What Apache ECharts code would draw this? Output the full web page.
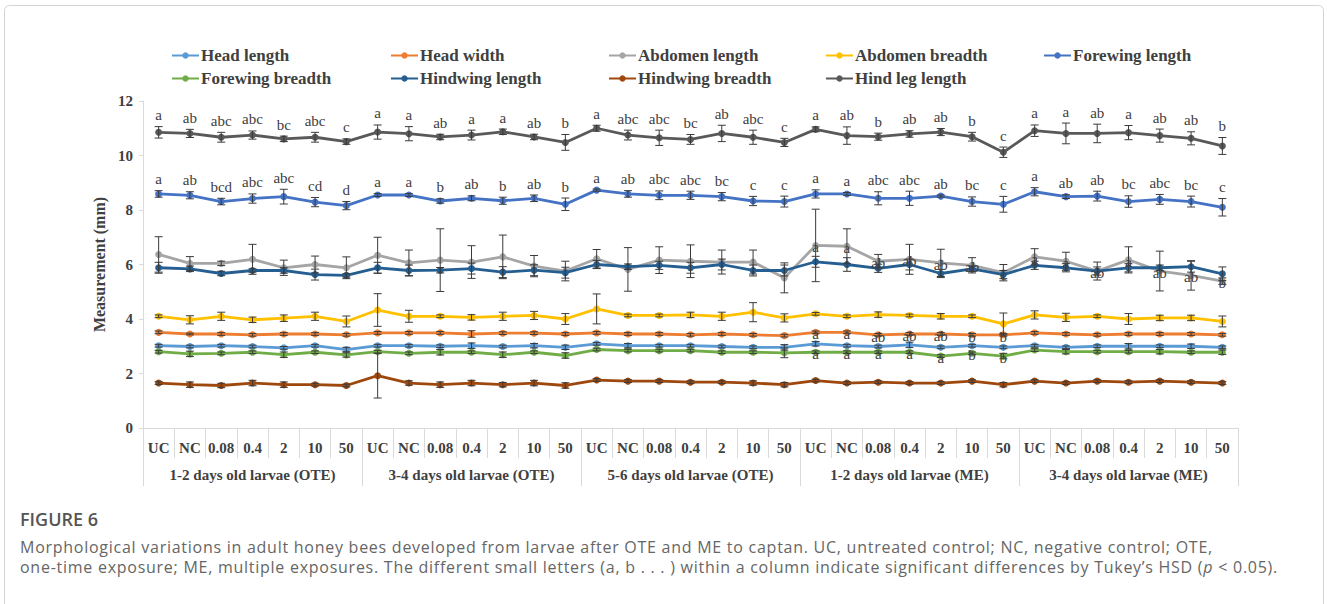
<!DOCTYPE html>
<html>
<head>
<meta charset="utf-8">
<script src="https://cdn.jsdelivr.net/npm/echarts@6/dist/echarts.min.js"></script>
<style>
html,body{margin:0;padding:0;background:#fff;}
#wrap{position:relative;width:1328px;height:604px;overflow:hidden;}
#chart{position:absolute;left:0;top:0;width:1328px;height:604px;}
.cap{position:absolute;white-space:nowrap;font-family:"Open Sans",sans-serif;}
#figTitle{left:20px;top:507px;font-size:18px;font-weight:600;color:#555;}
.capLine{left:20px;font-size:16px;color:#666;line-height:20px;}
#cap1{top:537px;}
#cap2{top:557px;}
</style>
</head>
<body>
<div id="wrap">
<div id="chart"></div>
<div id="figTitle" class="cap">FIGURE 6</div>
<div id="cap1" class="cap capLine">Morphological variations in adult honey bees developed from larvae after OTE and ME to captan. UC, untreated control; NC, negative control; OTE,</div>
<div id="cap2" class="cap capLine">one-time exposure; ME, multiple exposures. The different small letters (a, b . . . ) within a column indicate significant differences by Tukey’s HSD (<i>p</i> &lt; 0.05).</div>
</div>
<script>
// ---------- data ----------
var doses = ['UC','NC','0.08','0.4','2','10','50'];
var groups = ['1-2 days old larvae (OTE)','3-4 days old larvae (OTE)','5-6 days old larvae (OTE)','1-2 days old larvae (ME)','3-4 days old larvae (ME)'];
var categories = [];
groups.forEach(function(){ doses.forEach(function(d){ categories.push(d); }); });
var yTicks = [0,2,4,6,8,10,12];

var headLength = [3.02,2.99,3.02,2.99,2.94,3.02,2.88, 3.02,3.02,3.00,3.02,2.99,3.02,2.96, 3.09,3.02,3.02,3.02,2.99,2.96,2.96, 3.09,3.02,2.99,3.05,2.96,3.02,2.96, 3.02,2.96,3.00,3.00,3.00,3.00,2.96];
var headLengthErr = [0.05,0.05,0.05,0.05,0.05,0.05,0.08, 0.05,0.05,0.05,0.1,0.05,0.08,0.08, 0.05,0.08,0.05,0.05,0.05,0.05,0.1, 0.08,0.05,0.05,0.1,0.05,0.05,0.05, 0.05,0.05,0.05,0.1,0.05,0.08,0.05];
var headWidth = [3.51,3.45,3.45,3.42,3.45,3.45,3.42, 3.49,3.49,3.49,3.45,3.48,3.48,3.45, 3.49,3.45,3.45,3.42,3.45,3.42,3.39, 3.51,3.51,3.42,3.45,3.45,3.42,3.42, 3.49,3.45,3.42,3.45,3.45,3.45,3.42];
var headWidthErr = [0.05,0.03,0.05,0.05,0.05,0.05,0.05, 0.05,0.05,0.05,0.12,0.05,0.05,0.05, 0.05,0.05,0.05,0.05,0.05,0.05,0.05, 0.05,0.05,0.05,0.05,0.05,0.05,0.05, 0.05,0.05,0.05,0.05,0.05,0.05,0.05];
var abdomenLength = [6.37,6.04,6.04,6.19,5.88,6.00,5.88, 6.34,6.06,6.16,6.09,6.28,5.94,5.76, 6.21,5.82,6.16,6.12,6.09,6.09,5.51, 6.70,6.67,6.12,6.19,6.06,5.97,5.70, 6.28,6.12,5.76,6.17,5.76,5.60,5.39];
var abdomenLengthErr = [0.65,0.25,0.08,0.55,0.28,0.31,0.4, 0.66,0.47,1.15,0.6,0.8,0.39,0.36, 0.34,0.8,0.49,0.6,0.44,0.44,0.55, 1.33,0.64,0.25,0.55,0.5,0.28,0.3, 0.3,0.33,0.33,0.48,0.73,0.54,0.12];
var abdomenBreadth = [4.10,3.97,4.10,3.97,4.03,4.10,3.91, 4.33,4.10,4.10,4.06,4.10,4.13,4.00, 4.37,4.13,4.13,4.15,4.10,4.25,4.04, 4.19,4.10,4.16,4.13,4.10,4.10,3.82, 4.15,4.06,4.10,4.00,4.04,4.04,3.91];
var abdomenBreadthErr = [0.05,0.15,0.15,0.1,0.12,0.15,0.2, 0.6,0.22,0.05,0.1,0.15,0.15,0.2, 0.55,0.05,0.05,0.1,0.15,0.35,0.15, 0.05,0.05,0.1,0.05,0.1,0.05,0.4, 0.15,0.15,0.05,0.2,0.1,0.1,0.2];
var forewingLength = [8.59,8.54,8.31,8.42,8.49,8.29,8.16, 8.55,8.55,8.33,8.43,8.34,8.43,8.21, 8.73,8.59,8.54,8.54,8.49,8.33,8.31, 8.59,8.59,8.43,8.43,8.51,8.31,8.21, 8.67,8.49,8.51,8.31,8.39,8.31,8.10];
var forewingLengthErr = [0.12,0.13,0.12,0.17,0.27,0.17,0.15, 0.05,0.05,0.08,0.09,0.13,0.12,0.23, 0.04,0.12,0.16,0.15,0.15,0.17,0.2, 0.15,0.05,0.24,0.26,0.04,0.17,0.29, 0.15,0.07,0.18,0.21,0.18,0.2,0.32];
var forewingBreadth = [2.80,2.72,2.74,2.78,2.69,2.78,2.68, 2.80,2.74,2.78,2.78,2.69,2.78,2.66, 2.88,2.84,2.84,2.84,2.78,2.78,2.76, 2.78,2.78,2.78,2.78,2.64,2.74,2.64, 2.86,2.80,2.80,2.80,2.80,2.78,2.78];
var forewingBreadthErr = [0.05,0.1,0.05,0.05,0.1,0.05,0.08, 0.05,0.05,0.1,0.05,0.1,0.05,0.1, 0.05,0.05,0.05,0.05,0.05,0.05,0.18, 0.05,0.05,0.05,0.05,0.05,0.05,0.1, 0.05,0.08,0.05,0.05,0.08,0.05,0.08];
var hindwingLength = [5.88,5.84,5.67,5.78,5.78,5.63,5.60, 5.88,5.78,5.79,5.85,5.72,5.79,5.70, 6.00,5.92,5.97,5.88,6.00,5.78,5.78, 6.10,6.00,5.86,6.00,5.67,5.84,5.63, 5.97,5.88,5.76,5.88,5.88,5.92,5.66];
var hindwingLengthErr = [0.2,0.1,0.08,0.06,0.1,0.2,0.06, 0.2,0.2,0.1,0.2,0.2,0.2,0.2, 0.15,0.1,0.15,0.2,0.2,0.2,0.2, 0.2,0.25,0.15,0.2,0.15,0.1,0.15, 0.15,0.15,0.15,0.15,0.1,0.2,0.25];
var hindwingBreadth = [1.65,1.59,1.56,1.65,1.59,1.59,1.56, 1.92,1.65,1.59,1.65,1.59,1.65,1.56, 1.76,1.72,1.72,1.68,1.68,1.65,1.59, 1.74,1.65,1.68,1.65,1.65,1.72,1.59, 1.72,1.65,1.72,1.68,1.72,1.68,1.65];
var hindwingBreadthErr = [0.05,0.1,0.08,0.1,0.1,0.05,0.05, 0.82,0.08,0.1,0.1,0.08,0.1,0.1, 0.05,0.05,0.05,0.05,0.05,0.08,0.08, 0.05,0.05,0.05,0.05,0.05,0.05,0.08, 0.05,0.05,0.05,0.05,0.05,0.05,0.05];
var hindLegLength = [10.85,10.81,10.67,10.75,10.61,10.67,10.51, 10.86,10.80,10.68,10.75,10.87,10.68,10.48, 11.00,10.75,10.65,10.59,10.81,10.67,10.48, 10.96,10.73,10.69,10.79,10.86,10.69,10.12, 10.91,10.81,10.81,10.84,10.73,10.63,10.35];
var hindLegLengthErr = [0.21,0.15,0.18,0.15,0.1,0.18,0.1, 0.26,0.26,0.1,0.18,0.1,0.1,0.29, 0.11,0.18,0.28,0.18,0.3,0.26,0.15, 0.09,0.32,0.13,0.12,0.13,0.16,0.19, 0.21,0.38,0.34,0.26,0.24,0.24,0.31];

// significance letters
var hindLegLetters = ['a','ab','abc','abc','bc','abc','c', 'a','a','ab','a','a','ab','b', 'a','abc','abc','bc','ab','abc','c', 'a','ab','b','ab','ab','b','c', 'a','a','ab','a','ab','ab','b'];
var forewingLengthLetters = ['a','ab','bcd','abc','abc','cd','d', 'a','a','b','ab','b','ab','b', 'a','ab','abc','abc','bc','c','c', 'a','a','abc','abc','ab','bc','c', 'a','ab','ab','bc','abc','bc','c'];
var abdomenLengthLetters = ['','','','','','','', '','','','','','','', '','','','','','','', 'a','a','ab','ab','ab','ab','c', 'a','a','ab','a','ab','ab','b'];
var headWidthLetters = ['','','','','','','', '','','','','','','', '','','','','','','', 'a','a','ab','ab','ab','b','b', '','','','','','',''];
var forewingBreadthLetters = ['','','','','','','', '','','','','','','', '','','','','','','', 'a','a','a','a','a','b','b', '','','','','','',''];

var seriesNames = ['Head length','Head width','Abdomen length','Abdomen breadth','Forewing length','Forewing breadth','Hindwing length','Hindwing breadth','Hind leg length'];
var seriesColors = ['#5B9BD5','#ED7D31','#A5A5A5','#FFC000','#4472C4','#70AD47','#255E91','#9E480E','#595959'];
var seriesValues = [headLength,headWidth,abdomenLength,abdomenBreadth,forewingLength,forewingBreadth,hindwingLength,hindwingBreadth,hindLegLength];
var seriesErrors = [headLengthErr,headWidthErr,abdomenLengthErr,abdomenBreadthErr,forewingLengthErr,forewingBreadthErr,hindwingLengthErr,hindwingBreadthErr,hindLegLengthErr];

// ---------- chart ----------
var SERIF = '"Liberation Serif","Times New Roman",serif';
var chart = echarts.init(document.getElementById('chart'), null, {renderer:'svg'});

function errRender(params, api){
  var x = api.value(0), lo = api.value(1), hi = api.value(2);
  var p1 = api.coord([x, hi]), p2 = api.coord([x, lo]);
  var cap = 4;
  var st = {stroke:'#3a3a3a', lineWidth:1};
  return {type:'group', children:[
    {type:'line', shape:{x1:p1[0],y1:p1[1],x2:p2[0],y2:p2[1]}, style:st},
    {type:'line', shape:{x1:p1[0]-cap,y1:p1[1],x2:p1[0]+cap,y2:p1[1]}, style:st},
    {type:'line', shape:{x1:p2[0]-cap,y1:p2[1],x2:p2[0]+cap,y2:p2[1]}, style:st}
  ]};
}
function letterRender(letters, mode){
  return function(params, api){
    var s = letters[params.dataIndex];
    if(!s) return null;
    var p = api.coord([api.value(0), api.value(1)]);
    var y = mode === 'above' ? p[1]-4 : p[1]+2;
    return {type:'text', x:p[0], y:y, style:{text:s, fill:'#404040', font:'15px ' + SERIF, align:'center', verticalAlign: mode === 'above' ? 'bottom' : 'middle'}};
  };
}

var series = [];
seriesNames.forEach(function(name, k){
  series.push({
    name:name, type:'line', data:seriesValues[k], symbol:'circle', symbolSize:7,
    lineStyle:{width:2.8, color:seriesColors[k]}, itemStyle:{color:seriesColors[k]},
    z:2+k, animation:false
  });
});
seriesNames.forEach(function(name, k){
  var d = seriesValues[k].map(function(v,i){ return [i, v - seriesErrors[k][i], v + seriesErrors[k][i]]; });
  series.push({name:name+' error', type:'custom', renderItem:errRender, data:d, encode:{x:0,y:[1,2]}, z:20, silent:true, animation:false});
});
function topData(vals, errs){ return vals.map(function(v,i){ return [i, v + errs[i]]; }); }
function ptData(vals){ return vals.map(function(v,i){ return [i, v]; }); }
series.push({name:'hl letters', type:'custom', renderItem:letterRender(hindLegLetters,'above'), data:topData(hindLegLength,hindLegLengthErr), encode:{x:0,y:1}, z:30, silent:true, animation:false});
series.push({name:'fl letters', type:'custom', renderItem:letterRender(forewingLengthLetters,'above'), data:topData(forewingLength,forewingLengthErr), encode:{x:0,y:1}, z:30, silent:true, animation:false});
series.push({name:'al letters', type:'custom', renderItem:letterRender(abdomenLengthLetters,'on'), data:ptData(abdomenLength), encode:{x:0,y:1}, z:30, silent:true, animation:false});
series.push({name:'hw letters', type:'custom', renderItem:letterRender(headWidthLetters,'on'), data:ptData(headWidth), encode:{x:0,y:1}, z:30, silent:true, animation:false});
series.push({name:'fb letters', type:'custom', renderItem:letterRender(forewingBreadthLetters,'on'), data:ptData(forewingBreadth), encode:{x:0,y:1}, z:30, silent:true, animation:false});

var colX = [166, 385, 603, 820, 1038];
var legends = seriesNames.map(function(name, k){
  var row = k < 5 ? 0 : 1, col = k < 5 ? k : k - 5;
  return {data:[name], left:colX[col], top: row === 0 ? 42 : 65, itemWidth:27, itemHeight:8, itemGap:0,
    textStyle:{fontFamily:SERIF, fontWeight:'bold', fontSize:17, color:'#404040', padding:[0,0,0,-3]}, selectedMode:false};
});

var option = {
  backgroundColor:'transparent',
  animation:false,
  legend: legends,
  grid:{left:143, right:90, top:101, bottom:176, containLabel:false},
  xAxis:[{
    type:'category', data:categories, boundaryGap:true,
    axisLine:{lineStyle:{color:'#d9d9d9', width:1}},
    axisTick:{show:true, interval:0, length:30, lineStyle:{color:'#d9d9d9'}},
    axisLabel:{interval:0, margin:12, fontFamily:SERIF, fontWeight:'bold', fontSize:15, color:'#404040'}
  },{
    type:'category', data:groups, position:'bottom', boundaryGap:true,
    axisLine:{show:false},
    axisTick:{show:true, interval:0, length:58, lineStyle:{color:'#d9d9d9'}},
    axisLabel:{interval:0, margin:39, fontFamily:SERIF, fontWeight:'bold', fontSize:15, color:'#404040'}
  }],
  yAxis:{
    type:'value', min:yTicks[0], max:yTicks[yTicks.length-1], interval:2,
    name:'Measurement (mm)', nameLocation:'middle', nameGap:31,
    nameTextStyle:{fontFamily:SERIF, fontWeight:'bold', fontSize:16, color:'#404040'},
    axisLine:{show:true, lineStyle:{color:'#d9d9d9'}},
    axisTick:{show:true, length:4, lineStyle:{color:'#d9d9d9'}},
    splitLine:{show:false},
    axisLabel:{margin:10, fontFamily:SERIF, fontWeight:'bold', fontSize:15, color:'#404040'}
  },
  graphic:[
    {type:'rect', shape:{x:4.5, y:5.5, width:1319, height:640, r:5}, style:{fill:'none', stroke:'#d4d4d4', lineWidth:1}, z:-10, silent:true}
  ],
  series: series
};
chart.setOption(option);

// fit caption spacing so the second line ends near x = 1278
(function(){
  var l1 = document.getElementById('cap1'), l2 = document.getElementById('cap2');
  var target = 1278 - 20;
  var w = l2.getBoundingClientRect().width;
  var n = l2.textContent.length;
  var ls = (target - w) / n;
  if (ls > 0 && ls < 3) { l1.style.letterSpacing = ls + 'px'; l2.style.letterSpacing = ls + 'px'; }
})();
</script>
</body>
</html>
